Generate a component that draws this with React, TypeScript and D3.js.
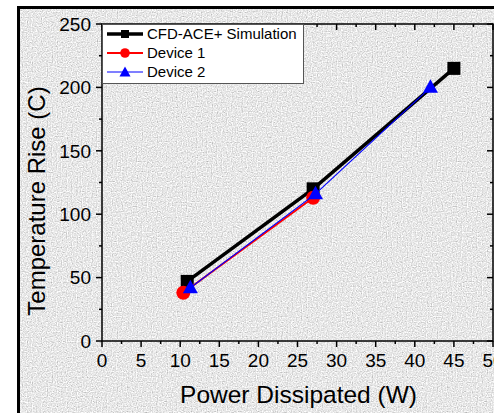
import React from "react";
import * as d3 from "d3";

const cfdX = [10.9, 27.0, 45.0];
const cfdY = [47, 120, 215];
const dev1X = [10.4, 27.0];
const dev1Y = [38, 113];
const dev2X = [11.3, 27.3, 42.0];
const dev2Y = [42, 116, 200];
const xTicks = [0, 5, 10, 15, 20, 25, 30, 35, 40, 45, 50];
const yTicks = [0, 50, 100, 150, 200, 250];
const legendLabels = ["CFD-ACE+ Simulation", "Device 1", "Device 2"];

const W = 494;
const H = 413;
const L = 102, R = 493, T = 24, B = 341;
const FONT = "Arial, 'Liberation Sans', sans-serif";

export default function App() {
  const x = d3.scaleLinear().domain([0, 50]).range([L, R]);
  const y = d3.scaleLinear().domain([0, 250]).range([B, T]);
  const line = d3.line<[number, number]>().x(d => x(d[0])).y(d => y(d[1]));
  const zip = (a: number[], b: number[]) => a.map((v, i) => [v, b[i]] as [number, number]);
  const cfd = zip(cfdX, cfdY);
  const d1 = zip(dev1X, dev1Y);
  const d2 = zip(dev2X, dev2Y);
  const xMinor = d3.range(2.5, 50, 5);
  const yMinor = d3.range(25, 250, 50);

  const square = (cx: number, cy: number, s: number, key?: any) => (
    <rect key={key} x={cx - s / 2} y={cy - s / 2} width={s} height={s} fill="#000" />
  );
  const tri = (cx: number, cy: number, w: number, key?: any) => {
    const h = w * 0.9;
    return (
      <path key={key} d={`M${cx},${cy - h * 0.6} L${cx + w / 2},${cy + h * 0.4} L${cx - w / 2},${cy + h * 0.4} Z`} fill="#0000ff" />
    );
  };

  const legY = [34, 53, 72];

  return (
    <svg width={W} height={H} style={{ position: "absolute", left: 0, top: 0 }} fontFamily={FONT}>
      <defs>
        <filter id="noise" x="0" y="0" width="100%" height="100%">
          <feTurbulence type="fractalNoise" baseFrequency="0.8" numOctaves={1} seed={3} result="n" />
          <feColorMatrix in="n" type="matrix"
            values="0.7 0.6 0 0 0.15  0.7 0.6 0 0 0.15  0.7 0.6 0 0 0.15  0 0 0 0 1" />
        </filter>
      </defs>
      <rect x={0} y={0} width={W} height={H} fill="#fff" />
      <rect x={19} y={8} width={W - 19} height={H - 8} filter="url(#noise)" />
      <line x1={18.5} y1={6} x2={18.5} y2={H} stroke="#000" strokeWidth={3} />
      <line x1={17} y1={7.5} x2={W} y2={7.5} stroke="#000" strokeWidth={3} />

      {/* plot frame */}
      <rect x={L} y={T} width={R - L} height={B - T} fill="none" stroke="#000" strokeWidth={1.5} />

      {xTicks.map(t => (
        <g key={"xt" + t}>
          <line x1={x(t)} x2={x(t)} y1={B} y2={B + 6} stroke="#000" strokeWidth={1.5} />
          <line x1={x(t)} x2={x(t)} y1={T} y2={T + 6} stroke="#000" strokeWidth={1.5} />
          <text x={x(t)} y={367} fontSize={19} textAnchor="middle" fill="#000">{t}</text>
        </g>
      ))}
      {xMinor.map(t => (
        <g key={"xm" + t}>
          <line x1={x(t)} x2={x(t)} y1={B} y2={B + 3} stroke="#000" strokeWidth={1.5} />
          <line x1={x(t)} x2={x(t)} y1={T} y2={T + 3} stroke="#000" strokeWidth={1.5} />
        </g>
      ))}
      {yTicks.map(t => (
        <g key={"yt" + t}>
          <line x1={L - 6} x2={L} y1={y(t)} y2={y(t)} stroke="#000" strokeWidth={1.5} />
          <line x1={R - 6} x2={R} y1={y(t)} y2={y(t)} stroke="#000" strokeWidth={1.5} />
          <text x={91} y={y(t)} dy="0.36em" fontSize={19} textAnchor="end" fill="#000">{t}</text>
        </g>
      ))}
      {yMinor.map(t => (
        <g key={"ym" + t}>
          <line x1={L - 3} x2={L} y1={y(t)} y2={y(t)} stroke="#000" strokeWidth={1.5} />
          <line x1={R - 3} x2={R} y1={y(t)} y2={y(t)} stroke="#000" strokeWidth={1.5} />
        </g>
      ))}

      <text x={298.5} y={403} fontSize={24.5} textAnchor="middle" fill="#000">Power Dissipated (W)</text>
      <text transform={`translate(45,201) rotate(-90)`} fontSize={24} textAnchor="middle" fill="#000">Temperature Rise (C)</text>

      <path d={line(cfd) || ""} fill="none" stroke="#000" strokeWidth={3.5} />
      {cfd.map((p, i) => square(x(p[0]), y(p[1]), 13, "cs" + i))}
      <path d={line(d1) || ""} fill="none" stroke="#ff0000" strokeWidth={2} />
      {d1.map((p, i) => <circle key={"c" + i} cx={x(p[0])} cy={y(p[1])} r={7} fill="#ff0000" />)}
      <path d={line(d2) || ""} fill="none" stroke="#0000ff" strokeWidth={1.2} />
      {d2.map((p, i) => tri(x(p[0]), y(p[1]), 15, "t" + i))}

      <rect x={L + 0.5} y={T + 0.5} width={201} height={59} fill="#fff" stroke="#555" strokeWidth={1} />
      <line x1={107} x2={143} y1={legY[0]} y2={legY[0]} stroke="#000" strokeWidth={3.5} />
      {square(125, legY[0], 8)}
      <line x1={107} x2={143} y1={legY[1]} y2={legY[1]} stroke="#ff0000" strokeWidth={2} />
      <circle cx={125} cy={legY[1]} r={4.8} fill="#ff0000" />
      <line x1={107} x2={143} y1={legY[2]} y2={legY[2]} stroke="#0000ff" strokeWidth={1.2} />
      {tri(125, legY[2] + 0.5, 11)}
      {legendLabels.map((s, i) => (
        <text key={s} x={147} y={legY[i]} dy="0.36em" fontSize={15} fill="#000">{s}</text>
      ))}
    </svg>
  );
}
